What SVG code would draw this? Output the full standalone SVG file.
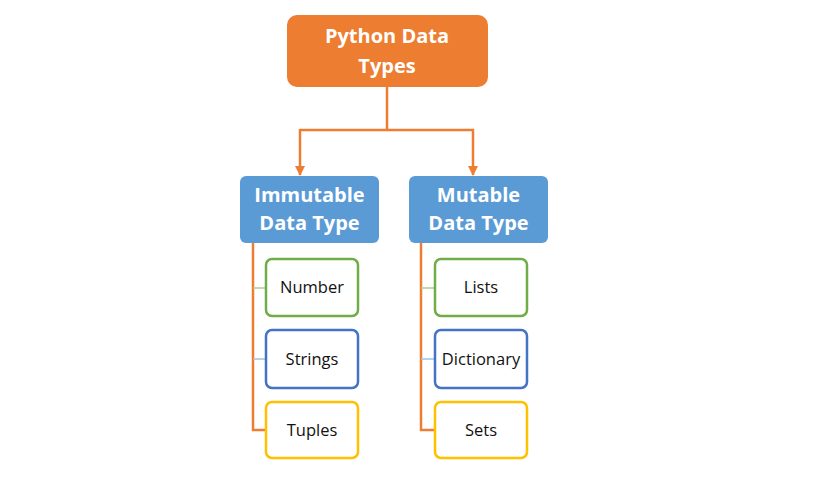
<svg xmlns="http://www.w3.org/2000/svg" width="824" height="482" viewBox="0 0 824 482">
<defs>
<style>
.hdr{font-family:"Open Sans","Liberation Sans",sans-serif;font-weight:bold;font-size:20px;fill:#fff;text-anchor:middle}
.lbl{font-family:"Open Sans","Liberation Sans",sans-serif;font-size:16.5px;fill:#111;text-anchor:middle}
.conn{fill:none;stroke:#ED7D31;stroke-width:2.5}
.leaf{fill:#fff;stroke-width:2.5}
</style>
<marker id="arr" viewBox="0 0 10 10" refX="9" refY="5" markerWidth="4" markerHeight="4" orient="auto" markerUnits="strokeWidth">
<path d="M0,0 L10,5 L0,10 z" fill="#ED7D31"/>
</marker>
</defs>
<rect width="824" height="482" fill="#fff"/>
<g id="connectors">
<path class="conn" d="M387,87 V130 M300,130 H474"/>
<path class="conn" d="M300,129 V175" marker-end="url(#arr)"/>
<path class="conn" d="M473,129 V175" marker-end="url(#arr)"/>
<path class="conn" d="M253,243 V430 H266"/>
<path class="conn" d="M421,243 V430 H435"/>
<path d="M253,288 H266" stroke="#A9D18E" stroke-width="1.5"/>
<path d="M253,359 H266" stroke="#9DC3E6" stroke-width="1.5"/>
<path d="M421,288 H435" stroke="#A9D18E" stroke-width="1.5"/>
<path d="M421,359 H435" stroke="#9DC3E6" stroke-width="1.5"/>
</g>
<g id="root">
<rect x="287" y="15" width="201" height="72" rx="10" fill="#ED7D31"/>
<text class="hdr" x="387" y="43">Python Data</text>
<text class="hdr" x="387" y="73">Types</text>
</g>
<g id="immutable">
<rect x="240" y="176" width="139" height="67" rx="6" fill="#5B9BD5"/>
<text class="hdr" x="309.5" y="202">Immutable</text>
<text class="hdr" x="309.5" y="230">Data Type</text>
</g>
<g id="mutable">
<rect x="409" y="176" width="139" height="67" rx="6" fill="#5B9BD5"/>
<text class="hdr" x="478.5" y="202">Mutable</text>
<text class="hdr" x="478.5" y="230">Data Type</text>
</g>
<g id="number">
<rect class="leaf" x="266" y="259" width="92" height="57" rx="6" stroke="#70AD47"/>
<text class="lbl" x="312" y="293">Number</text>
</g>
<g id="strings">
<rect class="leaf" x="266" y="330" width="92" height="58" rx="6" stroke="#4472C4"/>
<text class="lbl" x="312" y="365">Strings</text>
</g>
<g id="tuples">
<rect class="leaf" x="266" y="402" width="92" height="56" rx="6" stroke="#FFC000"/>
<text class="lbl" x="312" y="436">Tuples</text>
</g>
<g id="lists">
<rect class="leaf" x="435" y="259" width="92" height="57" rx="6" stroke="#70AD47"/>
<text class="lbl" x="481" y="293">Lists</text>
</g>
<g id="dictionary">
<rect class="leaf" x="435" y="330" width="92" height="58" rx="6" stroke="#4472C4"/>
<text class="lbl" x="481" y="365">Dictionary</text>
</g>
<g id="sets">
<rect class="leaf" x="435" y="402" width="92" height="56" rx="6" stroke="#FFC000"/>
<text class="lbl" x="481" y="436">Sets</text>
</g>
</svg>
